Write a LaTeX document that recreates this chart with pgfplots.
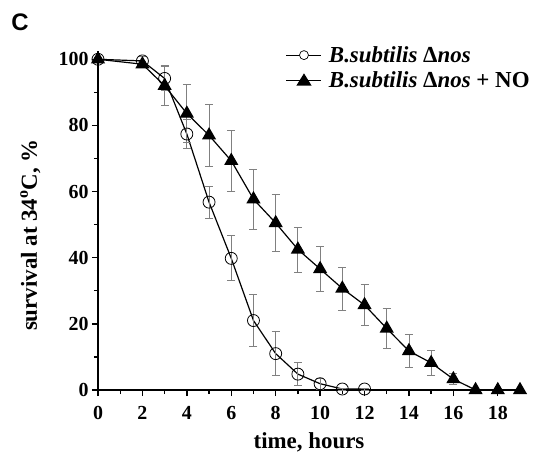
\documentclass[border=0pt]{standalone}
\usepackage{fontspec}
\setmainfont{Liberation Serif}
\newfontfamily\lsans{Liberation Sans}
\usepackage{pgfplots}
\pgfplotsset{compat=1.18}
\begin{document}
\begin{tikzpicture}
\useasboundingbox (-98bp,-69bp) rectangle (437bp,390bp);
\begin{axis}[
  scale only axis,
  width=422bp, height=339bp,
  xmin=0, xmax=19, ymin=0, ymax=102.5,
  axis x line*=bottom, axis y line*=left,
  axis line style={line width=1.6pt},
  xtick={0,2,...,18}, ytick={0,20,...,100},
  minor xtick={1,3,...,19}, minor ytick={10,30,...,90},
  tick align=outside,
  major tick length=6bp, minor tick length=4bp,
  tick style={line width=1.4pt, black},
  /pgf/number format/assume math mode=true,
  ticklabel style={font=\fontsize{20}{20}\selectfont\bfseries},
  xticklabel style={yshift=-7bp},
  xlabel={\textbf{time, hours}},
  ylabel={\textbf{survival at 34\textsuperscript{o}C, \%}},
  label style={font=\fontsize{23}{23}\selectfont},
  xlabel style={yshift=-6bp},
  ylabel style={at={(axis description cs:-0.128,0.457)}, anchor=south},
  legend style={draw=none, fill=none, at={(0.445,1.02)}, anchor=north west,
    font=\fontsize{23}{25}\selectfont, row sep=4bp, column sep=5bp, inner sep=0pt},
  legend cell align=left,
  clip=false,
]
\addplot[black, line width=1.2pt, mark=o, mark size=6bp,
  mark options={fill=white, line width=0.8pt},
  legend image code/.code={
    \draw[black, line width=1pt] (0bp,0bp) -- (35bp,0bp);
    \draw[black, line width=0.7pt, fill=white] (17.5bp,0bp) circle (4.5bp);},
  error bars/.cd, y dir=both, y explicit,
  error bar style={gray, line width=0.8pt},
  error mark options={rotate=90, mark size=4bp, gray, line width=0.8pt}]
coordinates {
 (0,100) +- (0,0.5)
 (2,99.5) +- (0,1.5)
 (3,94.2) +- (0,3.5)
 (4,77.4) +- (0,4.5)
 (5,56.8) +- (0,4.8)
 (6,39.8) +- (0,6.8)
 (7,21.0) +- (0,7.8)
 (8,11.0) +- (0,6.7)
 (9,4.8) +- (0,3.5)
 (10,1.9) +- (0,1.6)
 (11,0.3) +- (0,0.3)
 (12,0.3) +- (0,0.3)
};
\addlegendentry{\textbf{\textit{B.subtilis} Δ\textit{nos}}}
\addplot[black, line width=1.2pt, mark=triangle*, mark size=7bp,
  mark options={fill=black},
  legend image code/.code={
    \draw[black, line width=1pt] (0bp,0bp) -- (35bp,0bp);
    \fill[black] (17.5bp,6bp) -- (11bp,-4.5bp) -- (24bp,-4.5bp) -- cycle;},
  error bars/.cd, y dir=both, y explicit,
  error bar style={gray, line width=0.8pt},
  error mark options={rotate=90, mark size=4bp, gray, line width=0.8pt}]
coordinates {
 (0,100) +- (0,0.3)
 (2,98.5) +- (0,1.0)
 (3,92.0) +- (0,6.0)
 (4,83.6) +- (0,8.7)
 (5,77.0) +- (0,9.5)
 (6,69.3) +- (0,9.2)
 (7,57.7) +- (0,9.0)
 (8,50.5) +- (0,8.5)
 (9,42.5) +- (0,6.8)
 (10,36.6) +- (0,6.8)
 (11,30.7) +- (0,6.5)
 (12,25.7) +- (0,6.3)
 (13,18.6) +- (0,6.0)
 (14,11.8) +- (0,5.0)
 (15,8.2) +- (0,3.8)
 (16,3.3) +- (0,1.7)
 (17,0) +- (0,0)
 (18,0) +- (0,0)
 (19,0) +- (0,0)
};
\addlegendentry{\textbf{\textit{B.subtilis} Δ\textit{nos} + NO}}
\end{axis}
\node[font=\lsans\bfseries\fontsize{24}{24}\selectfont] at (-78bp,368bp) {C};
\end{tikzpicture}
\end{document}
